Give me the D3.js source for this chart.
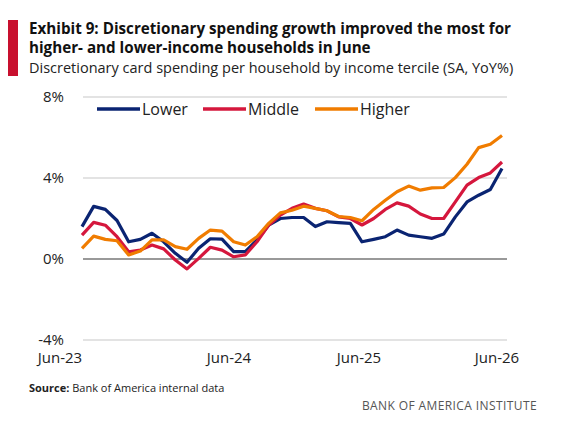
<!DOCTYPE html>
<html>
<head>
<meta charset="utf-8">
<script src="https://cdn.jsdelivr.net/npm/d3@7"></script>
<style>
  body { margin: 0; background: #fff; font-family: "Open Sans", "Noto Sans", sans-serif; }
</style>
</head>
<body>
<svg id="chart" width="566" height="425"></svg>
<script>
const seriesNames = ["Lower", "Middle", "Higher"];
const seriesColors = ["#0a2472", "#d5173d", "#f07c00"];
const lower = [1.6,2.6,2.45,1.9,0.85,0.97,1.27,0.85,0.28,-0.16,0.53,1.0,0.98,0.36,0.36,0.94,1.67,2.0,2.05,2.05,1.6,1.84,1.8,1.76,0.85,0.97,1.1,1.43,1.18,1.1,1.02,1.23,2.08,2.82,3.15,3.43,4.47];
const middle = [1.18,1.81,1.67,1.1,0.36,0.44,0.69,0.5,-0.05,-0.49,0.03,0.58,0.44,0.11,0.2,0.85,1.67,2.17,2.5,2.71,2.5,2.38,2.08,2.0,1.68,2.0,2.45,2.77,2.61,2.22,2.0,2.0,2.82,3.65,4.02,4.25,4.79];
const higher = [0.53,1.13,0.97,0.9,0.2,0.39,0.94,0.94,0.61,0.48,1.02,1.43,1.38,0.85,0.69,1.1,1.76,2.28,2.41,2.61,2.5,2.38,2.1,2.05,1.89,2.45,2.9,3.32,3.6,3.4,3.51,3.53,4.02,4.68,5.5,5.67,6.1];
const xTickMonths = [0, 12, 24, 36];
const xTickLabels = ["Jun-23", "Jun-24", "Jun-25", "Jun-26"];
const yTicks = [-4, 0, 4, 8];

const svg = d3.select("#chart");
const x = d3.scaleLinear().domain([0, 36]).range([82, 502]);
const y = d3.scaleLinear().domain([-4, 8]).range([340, 97]);

// header
svg.append("rect").attr("x", 8).attr("y", 20).attr("width", 10).attr("height", 56).attr("fill", "#c8102e");
const title = ["Exhibit 9: Discretionary spending growth improved the most for", "higher- and lower-income households in June"];
title.forEach((t, i) => svg.append("text").attr("x", 29).attr("y", 34 + i * 19)
  .attr("font-size", 15.2).attr("font-weight", "bold").attr("fill", "#111").text(t));
svg.append("text").attr("x", 29).attr("y", 73).attr("font-size", 14.5).attr("fill", "#222")
  .text("Discretionary card spending per household by income tercile (SA, YoY%)");

// grid
yTicks.forEach(v => {
  svg.append("line").attr("x1", 83).attr("x2", 507).attr("y1", y(v)).attr("y2", y(v))
    .attr("stroke", v === 0 ? "#777" : "#c8c8c8").attr("stroke-width", v === 0 ? 1.5 : 1.2);
  svg.append("text").attr("x", 64).attr("y", y(v) + 5).attr("text-anchor", "end")
    .attr("font-size", 15).attr("fill", "#222").text(v + "%");
});
xTickMonths.forEach((m, i) => {
  svg.append("text").attr("x", x(m) + (i === 0 ? -22 : (i === 1 ? 7 : (i === 3 ? -5 : -3))))
    .attr("y", 363).attr("text-anchor", "middle").attr("font-size", 15).attr("fill", "#222").text(xTickLabels[i]);
});

// lines
const line = d3.line().x((d, i) => x(i)).y(d => y(d));
[lower, middle, higher].forEach((s, k) => {
  svg.append("path").datum(s).attr("d", line).attr("fill", "none")
    .attr("stroke", seriesColors[k]).attr("stroke-width", 3.2).attr("stroke-linejoin", "round");
});

// legend
const legX = [97, 203, 315];
seriesNames.forEach((n, k) => {
  svg.append("line").attr("x1", legX[k]).attr("x2", legX[k] + 43).attr("y1", 109).attr("y2", 109)
    .attr("stroke", seriesColors[k]).attr("stroke-width", 3.5);
  svg.append("text").attr("x", legX[k] + 45).attr("y", 115).attr("font-size", 16).attr("fill", "#222").text(n);
});

// footer
const src = svg.append("text").attr("x", 29).attr("y", 392).attr("font-size", 11).attr("fill", "#222");
src.append("tspan").attr("font-weight", "bold").text("Source:");
src.append("tspan").text(" Bank of America internal data");
svg.append("text").attr("x", 537).attr("y", 410).attr("text-anchor", "end").attr("font-size", 12)
  .attr("letter-spacing", 0.4).attr("fill", "#555").text("BANK OF AMERICA INSTITUTE");
</script>
</body>
</html>
